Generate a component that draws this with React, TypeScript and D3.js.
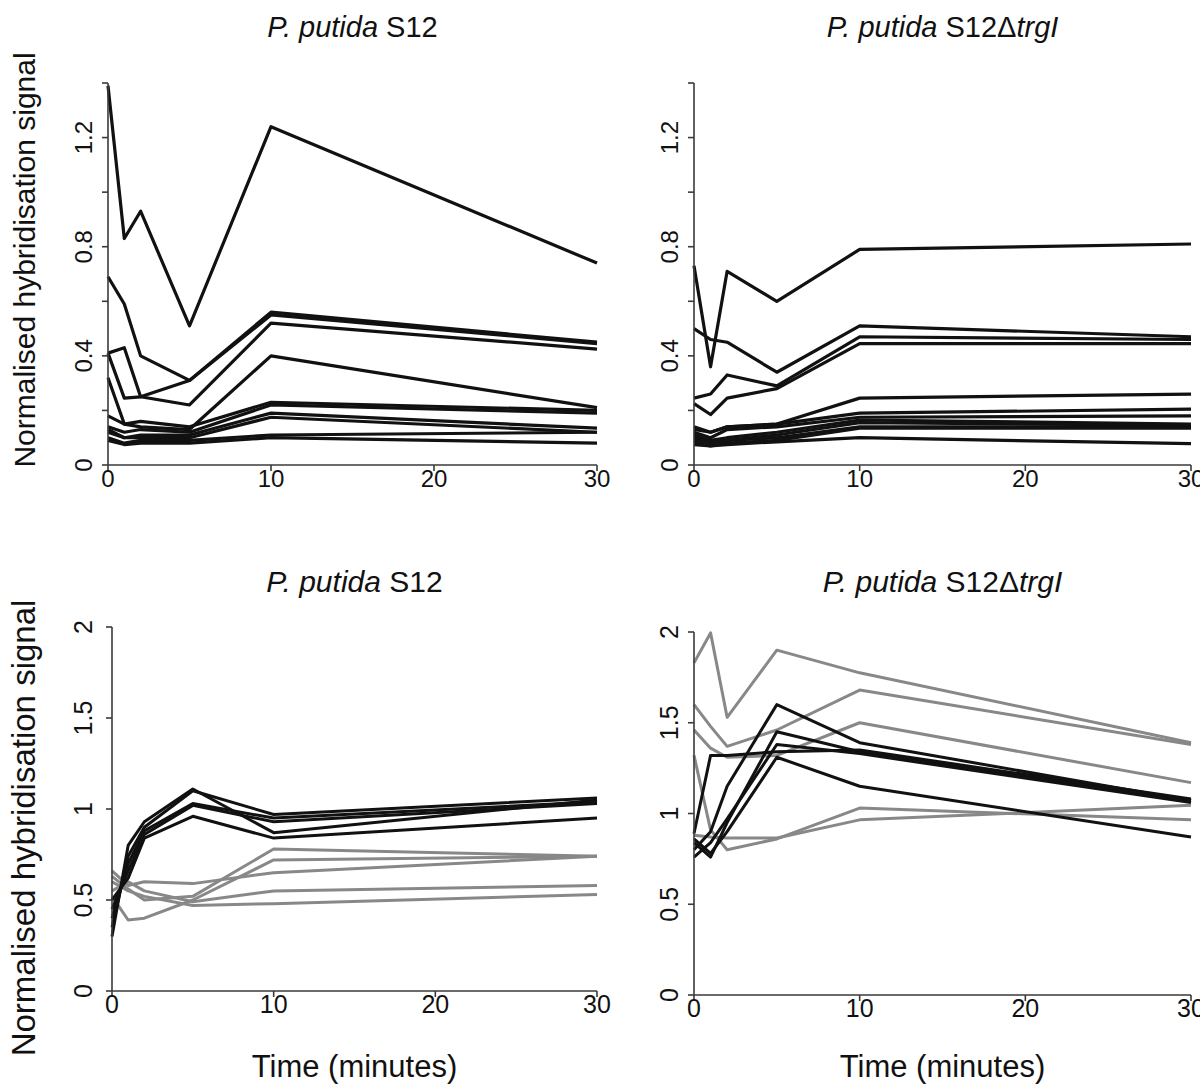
import React from "react";
import * as d3 from "d3";

const times = [0, 1, 2, 5, 10, 30];
const xTicks = [0, 10, 20, 30];
const yTicksTop = [0, 0.2, 0.4, 0.6, 0.8, 1.0, 1.2, 1.4];
const yLabelsTop = [0, 0.4, 0.8, 1.2];
const yTicksBottom = [0, 0.5, 1, 1.5, 2];
const yLabelsBottom = ["0", "0.5", "1", "1.5", "2"];

const s12Top: number[][] = [
  [1.39, 0.83, 0.93, 0.51, 1.24, 0.74],
  [0.69, 0.59, 0.4, 0.31, 0.56, 0.45],
  [0.41, 0.43, 0.25, 0.31, 0.55, 0.445],
  [0.41, 0.245, 0.25, 0.22, 0.52, 0.425],
  [0.32, 0.15, 0.14, 0.13, 0.4, 0.21],
  [0.18, 0.15, 0.16, 0.14, 0.23, 0.2],
  [0.14, 0.12, 0.13, 0.12, 0.22, 0.19],
  [0.13, 0.1, 0.11, 0.11, 0.19, 0.135],
  [0.12, 0.1, 0.1, 0.1, 0.175, 0.12],
  [0.1, 0.08, 0.09, 0.09, 0.11, 0.12],
  [0.09, 0.075, 0.08, 0.08, 0.1, 0.08],
];

const dtrgTop: number[][] = [
  [0.73, 0.36, 0.71, 0.6, 0.79, 0.81],
  [0.5, 0.46, 0.45, 0.34, 0.51, 0.47],
  [0.245, 0.26, 0.33, 0.29, 0.47, 0.46],
  [0.225, 0.185, 0.245, 0.28, 0.445, 0.445],
  [0.13, 0.12, 0.14, 0.15, 0.245, 0.26],
  [0.14, 0.12, 0.14, 0.15, 0.19, 0.205],
  [0.12, 0.1, 0.13, 0.14, 0.175, 0.18],
  [0.11, 0.09, 0.1, 0.12, 0.165, 0.15],
  [0.1, 0.085, 0.09, 0.11, 0.155, 0.145],
  [0.09, 0.08, 0.09, 0.1, 0.14, 0.14],
  [0.08, 0.07, 0.08, 0.09, 0.135, 0.135],
  [0.075, 0.07, 0.075, 0.085, 0.1, 0.078],
];

const s12BottomBlack: number[][] = [
  [0.3, 0.8, 0.93, 1.11, 0.87, 1.05],
  [0.35, 0.74, 0.9, 1.1, 0.97, 1.06],
  [0.4, 0.7, 0.88, 1.03, 0.95, 1.04],
  [0.45, 0.66, 0.86, 1.02, 0.93, 1.03],
  [0.5, 0.62, 0.84, 0.96, 0.84, 0.95],
];

const s12BottomGray: number[][] = [
  [0.63, 0.56, 0.5, 0.52, 0.78, 0.74],
  [0.52, 0.39, 0.4, 0.5, 0.72, 0.74],
  [0.66, 0.58, 0.6, 0.59, 0.65, 0.74],
  [0.55, 0.6, 0.55, 0.49, 0.55, 0.58],
  [0.6, 0.55, 0.52, 0.47, 0.48, 0.53],
];

const dtrgBottomBlack: number[][] = [
  [0.89, 1.32, 1.32, 1.34, 1.35, 1.08],
  [0.8, 0.9, 1.15, 1.6, 1.39, 1.07],
  [0.84, 0.76, 0.95, 1.45, 1.34, 1.07],
  [0.76, 0.84, 0.97, 1.38, 1.33, 1.06],
  [0.86, 0.78, 0.9, 1.31, 1.15, 0.87],
];

const dtrgBottomGray: number[][] = [
  [1.83, 1.995, 1.53, 1.9, 1.775, 1.39],
  [1.6, 1.48, 1.37, 1.46, 1.68, 1.38],
  [1.46, 1.36, 1.31, 1.32, 1.5, 1.17],
  [1.32, 0.91, 0.8, 0.86, 1.03, 0.965],
  [0.88, 0.87, 0.865, 0.865, 0.965, 1.045],
];

const FONT = "'Liberation Sans', Arial, Helvetica, sans-serif";
const BLACK = "#111";
const GRAY = "#888";
const AXIS = "#3a3a3a";

type PanelProps = {
  x0: number;
  x1: number;
  y0: number;
  y1: number;
  yMax: number;
  yTicks: number[];
  yLabels: { v: number; t: string }[];
  black: number[][];
  gray: number[][];
  mutant: boolean;
  titleY: number;
  titleSize: number;
  tickSize: number;
  yLabelX: number;
  xLabelOffset: number;
  lineWidth: number;
  showYTitle: boolean;
  yTitleSize: number;
  yTitleCenter: number;
  showXTitle: boolean;
  xTitleY: number;
  xTitleSize: number;
};

function Panel(p: PanelProps) {
  const x = d3.scaleLinear().domain([0, 30]).range([p.x0, p.x1]);
  const y = d3.scaleLinear().domain([0, p.yMax]).range([p.y0, p.y1]);
  const line = d3
    .line<number>()
    .x((_, i) => x(times[i]))
    .y((d) => y(d));
  const cx = (p.x0 + p.x1) / 2;
  return (
    <g>
      <text
        x={cx}
        y={p.titleY}
        textAnchor="middle"
        fontSize={p.titleSize}
        fontFamily={FONT}
        fill="#111"
      >
        <tspan fontStyle="italic">P. putida</tspan>
        <tspan> S12</tspan>
        {p.mutant ? (
          <>
            <tspan>Δ</tspan>
            <tspan fontStyle="italic">trgI</tspan>
          </>
        ) : null}
      </text>
      {p.gray.map((d, i) => (
        <path
          key={"g" + i}
          d={line(d) || ""}
          fill="none"
          stroke={GRAY}
          strokeWidth={p.lineWidth}
          strokeLinejoin="round"
        />
      ))}
      {p.black.map((d, i) => (
        <path
          key={"b" + i}
          d={line(d) || ""}
          fill="none"
          stroke={BLACK}
          strokeWidth={p.lineWidth}
          strokeLinejoin="round"
        />
      ))}
      <line x1={x(0)} x2={x(0)} y1={y(0)} y2={y(p.yMax)} stroke={AXIS} strokeWidth={1.6} />
      <line x1={x(0)} x2={x(30)} y1={y(0)} y2={y(0)} stroke={AXIS} strokeWidth={1.6} />
      {p.yTicks.map((t) => (
        <line key={"yt" + t} x1={x(0) - 6} x2={x(0)} y1={y(t)} y2={y(t)} stroke={AXIS} strokeWidth={1.6} />
      ))}
      {xTicks.map((t) => (
        <line key={"xt" + t} x1={x(t)} x2={x(t)} y1={y(0)} y2={y(0) + 6} stroke={AXIS} strokeWidth={1.6} />
      ))}
      {p.yLabels.map((l) => (
        <text
          key={"yl" + l.t}
          transform={`translate(${p.yLabelX},${y(l.v)}) rotate(-90)`}
          textAnchor="middle"
          fontSize={p.tickSize}
          fontFamily={FONT}
          fill="#111"
        >
          {l.t}
        </text>
      ))}
      {xTicks.map((t) => (
        <text
          key={"xl" + t}
          x={x(t)}
          y={y(0) + p.xLabelOffset}
          textAnchor="middle"
          fontSize={p.tickSize}
          fontFamily={FONT}
          fill="#111"
        >
          {t}
        </text>
      ))}
      {p.showYTitle ? (
        <text
          transform={`translate(35,${p.yTitleCenter}) rotate(-90)`}
          textAnchor="middle"
          fontSize={p.yTitleSize}
          fontFamily={FONT}
          fill="#111"
        >
          Normalised hybridisation signal
        </text>
      ) : null}
      {p.showXTitle ? (
        <text
          x={cx}
          y={p.xTitleY}
          textAnchor="middle"
          fontSize={p.xTitleSize}
          fontFamily={FONT}
          fill="#111"
        >
          Time (minutes)
        </text>
      ) : null}
    </g>
  );
}

export default function App() {
  const topLabels = yLabelsTop.map((v) => ({ v, t: String(v) }));
  const bottomLabels = yTicksBottom.map((v, i) => ({ v, t: yLabelsBottom[i] }));
  return (
    <svg
      width={1200}
      height={1086}
      style={{ position: "absolute", left: 0, top: 0, background: "#fff" }}
    >
      <rect width={1200} height={1086} fill="#fff" />
      <Panel
        x0={108}
        x1={597}
        y0={465}
        y1={83}
        yMax={1.4}
        yTicks={yTicksTop}
        yLabels={topLabels}
        black={s12Top}
        gray={[]}
        mutant={false}
        titleY={37}
        titleSize={29}
        tickSize={24}
        yLabelX={92}
        xLabelOffset={22}
        lineWidth={3.2}
        showYTitle={true}
        yTitleSize={30}
        yTitleCenter={260}
        showXTitle={false}
        xTitleY={0}
        xTitleSize={0}
      />
      <Panel
        x0={694}
        x1={1191}
        y0={465}
        y1={83}
        yMax={1.4}
        yTicks={yTicksTop}
        yLabels={topLabels}
        black={dtrgTop}
        gray={[]}
        mutant={true}
        titleY={37}
        titleSize={29}
        tickSize={24}
        yLabelX={678}
        xLabelOffset={22}
        lineWidth={3.2}
        showYTitle={false}
        yTitleSize={0}
        yTitleCenter={0}
        showXTitle={false}
        xTitleY={0}
        xTitleSize={0}
      />
      <Panel
        x0={112}
        x1={597}
        y0={991}
        y1={627}
        yMax={2}
        yTicks={yTicksBottom}
        yLabels={bottomLabels}
        black={s12BottomBlack}
        gray={s12BottomGray}
        mutant={false}
        titleY={592}
        titleSize={30}
        tickSize={25}
        yLabelX={92}
        xLabelOffset={22}
        lineWidth={3}
        showYTitle={true}
        yTitleSize={33}
        yTitleCenter={828}
        showXTitle={true}
        xTitleY={1077}
        xTitleSize={31}
      />
      <Panel
        x0={694}
        x1={1191}
        y0={995}
        y1={632}
        yMax={2}
        yTicks={yTicksBottom}
        yLabels={bottomLabels}
        black={dtrgBottomBlack}
        gray={dtrgBottomGray}
        mutant={true}
        titleY={592}
        titleSize={30}
        tickSize={25}
        yLabelX={678}
        xLabelOffset={22}
        lineWidth={3}
        showYTitle={false}
        yTitleSize={0}
        yTitleCenter={0}
        showXTitle={true}
        xTitleY={1077}
        xTitleSize={31}
      />
    </svg>
  );
}
